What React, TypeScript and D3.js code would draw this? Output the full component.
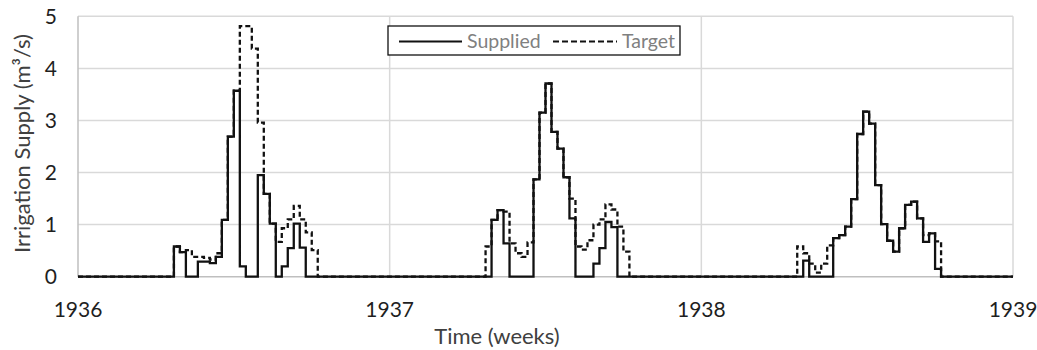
import React from 'react';
import * as d3 from 'd3';

// weekly irrigation supply (m3/s), 52 weeks per year
const yearLabels = ['1936', '1937', '1938', '1939'];
const yTicks = [0, 1, 2, 3, 4, 5];
const weeksPerYear = 52;

const supplied1936 = [
  0, 0, 0, 0, 0, 0, 0, 0, 0, 0, 0, 0, 0, 0, 0, 0,
  0.58, 0.47, 0, 0, 0.29, 0.29, 0.26, 0.38, 1.09, 2.69, 3.57, 0.2, 0, 0, 1.95, 1.59,
  1.02, 0, 0.2, 0.55, 1.02, 0.56,
  0, 0, 0, 0, 0, 0, 0, 0, 0, 0, 0, 0, 0, 0,
];
const target1936 = [
  0, 0, 0, 0, 0, 0, 0, 0, 0, 0, 0, 0, 0, 0, 0, 0,
  0.58, 0.47, 0.51, 0.38, 0.38, 0.36, 0.33, 0.45, 1.09, 2.69, 3.57, 4.81, 4.81, 4.38, 2.96, 1.59,
  1.02, 0.67, 0.93, 1.1, 1.36, 1.1, 0.85, 0.51,
  0, 0, 0, 0, 0, 0, 0, 0, 0, 0, 0, 0,
];
const supplied1937 = [
  0, 0, 0, 0, 0, 0, 0, 0, 0, 0, 0, 0, 0, 0, 0, 0, 0,
  1.09, 1.28, 0.64, 0, 0, 0, 0, 1.87, 3.15, 3.71, 2.78, 2.46, 1.91, 1.12, 0,
  0, 0, 0.25, 0.55, 1.05, 0.95,
  0, 0, 0, 0, 0, 0, 0, 0, 0, 0, 0, 0, 0, 0,
];
const target1937 = [
  0, 0, 0, 0, 0, 0, 0, 0, 0, 0, 0, 0, 0, 0, 0, 0,
  0.58, 1.09, 1.28, 1.25, 0.64, 0.45, 0.38, 0.66, 1.87, 3.15, 3.71, 2.78, 2.46, 1.91, 1.5, 0.58,
  0.52, 0.7, 1.0, 1.1, 1.39, 1.29, 0.96, 0.48,
  0, 0, 0, 0, 0, 0, 0, 0, 0, 0, 0, 0,
];
const supplied1938 = [
  0, 0, 0, 0, 0, 0, 0, 0, 0, 0, 0, 0, 0, 0, 0, 0, 0,
  0.31, 0, 0, 0, 0, 0.74, 0.8, 0.96, 1.49, 2.74, 3.17, 2.94, 1.76, 1.01, 0.69,
  0.48, 0.93, 1.38, 1.44, 1.12, 0.67, 0.83, 0.15,
  0, 0, 0, 0, 0, 0, 0, 0, 0, 0, 0, 0,
];
const target1938 = [
  0, 0, 0, 0, 0, 0, 0, 0, 0, 0, 0, 0, 0, 0, 0, 0,
  0.58, 0.45, 0.25, 0.08, 0.25, 0.6, 0.74, 0.8, 0.96, 1.49, 2.74, 3.17, 2.94, 1.76, 1.01, 0.69,
  0.48, 0.93, 1.38, 1.44, 1.12, 0.8, 0.83, 0.68,
  0, 0, 0, 0, 0, 0, 0, 0, 0, 0, 0, 0,
];

const supplied = [...supplied1936, ...supplied1937, ...supplied1938];
const target = [...target1936, ...target1937, ...target1938];

const W = 1037;
const H = 350;
const font = "Lato, 'Open Sans', sans-serif";

export default function App() {
  const x = d3.scaleLinear().domain([0, supplied.length]).range([78, 1013]);
  const y = d3.scaleLinear().domain([0, 5]).range([276.7, 16.3]);

  // step after, with a closing point so the last week reaches the axis end
  const line = d3
    .line<number>()
    .x((_, i) => x(i))
    .y((d) => y(d))
    .curve(d3.curveStepAfter);
  const withEnd = (s: number[]) => [...s, s[s.length - 1]];

  const [x0, x1] = x.range();

  return (
    <svg
      width={W}
      height={H}
      style={{ position: 'absolute', left: 0, top: 0, background: '#fff' }}
      fontFamily={font}
    >
      {/* horizontal grid */}
      {yTicks.slice(1).map((t) => (
        <line key={'h' + t} x1={x0} x2={x1} y1={y(t)} y2={y(t)} stroke="#d9d9d9" strokeWidth={1.5} />
      ))}
      {/* vertical grid at each year */}
      {yearLabels.slice(1).map((_, i) => (
        <line
          key={'v' + i}
          x1={x((i + 1) * weeksPerYear)}
          x2={x((i + 1) * weeksPerYear)}
          y1={y(5)}
          y2={y(0)}
          stroke="#d9d9d9"
          strokeWidth={1.5}
        />
      ))}
      {/* axis lines */}
      <line x1={x0} x2={x0} y1={y(5)} y2={y(0)} stroke="#bfbfbf" strokeWidth={1.5} />
      <line x1={x0} x2={x1} y1={y(0)} y2={y(0)} stroke="#bfbfbf" strokeWidth={1.5} />

      {/* series */}
      <path d={line(withEnd(target)) ?? ''} fill="none" stroke="#111" strokeWidth={2.3} strokeDasharray="5 3" />
      <path d={line(withEnd(supplied)) ?? ''} fill="none" stroke="#111" strokeWidth={2.3} />

      {/* y tick labels */}
      {yTicks.map((t) => (
        <text key={'yt' + t} x={57} y={y(t)} dy="0.36em" textAnchor="end" fontSize={21} fill="#1f1f1f">
          {t}
        </text>
      ))}
      {/* x tick labels */}
      {yearLabels.map((lab, i) => (
        <text key={'xt' + lab} x={x(i * weeksPerYear)} y={317} textAnchor="middle" fontSize={21} fill="#1f1f1f">
          {lab}
        </text>
      ))}

      {/* axis titles */}
      <text x={497} y={344} textAnchor="middle" fontSize={22} fill="#404040">
        Time (weeks)
      </text>
      <text
        transform={`translate(30, ${(y(0) + y(5)) / 2 - 3}) rotate(-90)`}
        textAnchor="middle"
        fontSize={22}
        fill="#404040"
      >
        Irrigation Supply (m³/s)
      </text>

      {/* legend */}
      <g>
        <rect x={388} y={26} width={292} height={29} fill="#fff" stroke="#111" strokeWidth={1.3} />
        <line x1={399} x2={462} y1={41.5} y2={41.5} stroke="#111" strokeWidth={2.2} />
        <text x={467} y={41.5} dy="0.35em" fontSize={19.5} fill="#808080">
          Supplied
        </text>
        <line x1={553} x2={617} y1={41.5} y2={41.5} stroke="#111" strokeWidth={2.2} strokeDasharray="6 3" />
        <text x={622} y={41.5} dy="0.35em" fontSize={19.5} fill="#808080">
          Target
        </text>
      </g>
    </svg>
  );
}
